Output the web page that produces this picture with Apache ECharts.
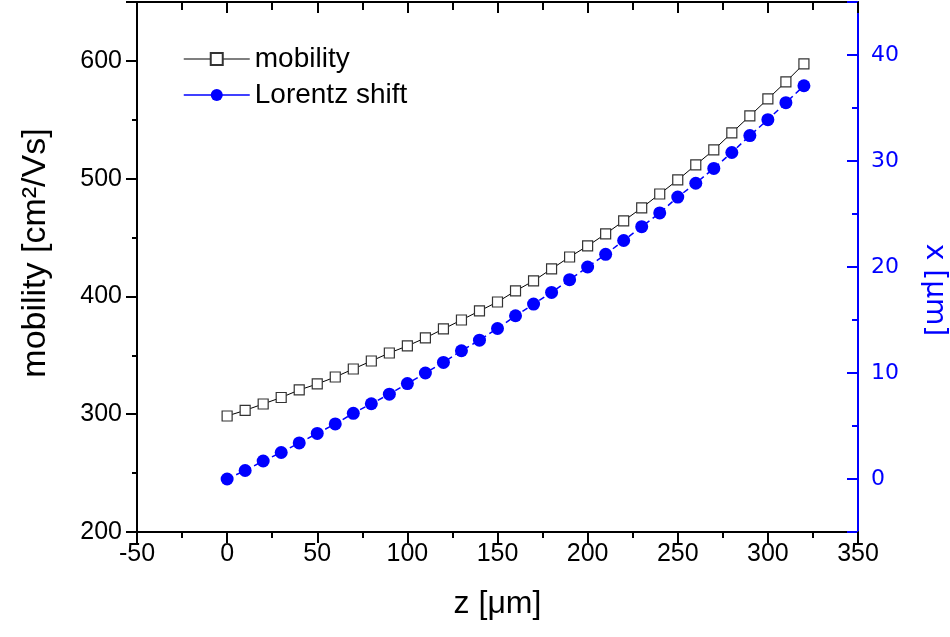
<!DOCTYPE html>
<html><head><meta charset="utf-8">
<script src="https://cdn.jsdelivr.net/npm/echarts@6/dist/echarts.min.js"></script>
<style>html,body{margin:0;padding:0;background:#fff}#c{width:950px;height:637px}</style>
</head><body><div id="c"></div>
<script>
const zValues = [0,10,20,30,40,50,60,70,80,90,100,110,120,130,140,150,160,170,180,190,200,210,220,230,240,250,260,270,280,290,300,310,320];
const mobility = [298.5,303.3,308.7,314.2,320.6,325.7,331.6,338.4,345.2,352.0,358.0,364.8,372.4,380.0,387.7,395.3,404.7,413.2,423.4,433.5,442.9,453.1,464.1,475.2,487.0,498.9,511.7,524.4,538.9,553.3,567.7,582.2,597.5];
const lorentzShift = [0,0.8,1.7,2.5,3.4,4.3,5.2,6.2,7.1,8.0,9.0,10.0,11.0,12.1,13.1,14.2,15.4,16.5,17.6,18.8,20.0,21.2,22.5,23.8,25.1,26.6,27.9,29.3,30.8,32.4,33.9,35.5,37.1];
const seriesNames = ['mobility','Lorentz shift'];
const xTitle = 'z [\u03bcm]';
const yLeftTitle = 'mobility [cm\u00b2/Vs]';
const yRightTitle = 'x [\u03bcm]';

const mobData = zValues.map((z,i)=>[z,mobility[i]]);
const lorData = zValues.map((z,i)=>[z,lorentzShift[i]]);
const AR = 'Liberation Sans, Arial, sans-serif';
const DV = 'DejaVu Sans, Verdana, sans-serif';
const chart = echarts.init(document.getElementById('c'), null, {renderer:'canvas'});
chart.setOption({
  animation:false,
  backgroundColor:'#fff',
  grid:{left:137,right:92,top:2,bottom:105,containLabel:false,outerBoundsMode:'none'},
  legend:{
    left:178, top:40, orient:'vertical', itemGap:8, itemWidth:66, itemHeight:15,
    textStyle:{fontFamily:AR,fontSize:28,color:'#000',padding:[0,0,0,0]},
    data:[
      {name:seriesNames[0], lineStyle:{type:'solid',width:1.2,color:'#000'}},
      {name:seriesNames[1], lineStyle:{type:'solid',width:1.5,color:'#0000ff'}}
    ]
  },
  xAxis:[{
    type:'value', min:-50, max:350, interval:50, position:'bottom',
    axisLine:{show:true,onZero:false,lineStyle:{color:'#000',width:2}},
    axisTick:{show:true,inside:false,length:11,lineStyle:{color:'#000',width:2}},
    minorTick:{show:true,splitNumber:2,length:6,lineStyle:{color:'#000',width:2}},
    splitLine:{show:false},
    axisLabel:{margin:10,fontFamily:AR,fontSize:25,color:'#000'},
    name:xTitle, nameLocation:'middle', nameGap:56,
    nameTextStyle:{fontFamily:AR,fontSize:32,color:'#000'}
  },{
    type:'value', min:-50, max:350, interval:50, position:'top',
    axisLine:{show:true,onZero:false,lineStyle:{color:'#000',width:2}},
    axisTick:{show:true,inside:true,length:11,lineStyle:{color:'#000',width:2}},
    minorTick:{show:true,splitNumber:2,length:8,lineStyle:{color:'#000',width:2}},
    splitLine:{show:false}, axisLabel:{show:false}
  }],
  yAxis:[{
    type:'value', min:200, max:650, interval:50, position:'left',
    axisLine:{show:true,onZero:false,lineStyle:{color:'#000',width:2}},
    axisTick:{show:true,inside:false,length:5,lineStyle:{color:'#000',width:2}},
    splitLine:{show:false},
    axisLabel:{margin:15,fontFamily:AR,fontSize:25,color:'#000',
      formatter:v=> (v%100===0 && v<=600) ? String(v) : ''},
    name:yLeftTitle, nameLocation:'middle', nameGap:84, nameRotate:90,
    nameTextStyle:{fontFamily:AR,fontSize:34,color:'#000',padding:[0,0,0,28]}
  },{
    type:'value', min:-5, max:45, interval:5, position:'right',
    axisLine:{show:true,onZero:false,lineStyle:{color:'#0000ff',width:2}},
    axisTick:{show:true,inside:true,length:6,lineStyle:{color:'#0000ff',width:2}},
    splitLine:{show:false},
    axisLabel:{margin:13,fontFamily:DV,fontSize:22,color:'#0000ff',
      formatter:v=> (v%10===0) ? String(v) : ''},
    name:yRightTitle, nameLocation:'middle', nameGap:62, nameRotate:-90,
    nameTextStyle:{fontFamily:DV,fontSize:28,color:'#0000ff',padding:[0,0,0,46]}
  },{
    type:'value', min:200, max:650, interval:100, position:'left',
    axisLine:{show:false,onZero:false},
    axisTick:{show:true,inside:false,length:11,lineStyle:{color:'#000',width:2}},
    splitLine:{show:false}, axisLabel:{show:false}
  },{
    type:'value', min:-5, max:45, position:'right',
    axisLine:{show:false,onZero:false},
    axisTick:{show:true,inside:true,length:11,lineStyle:{color:'#0000ff',width:2}},
    splitLine:{show:false}, axisLabel:{show:false}
  }],
  series:[{
    name:seriesNames[0], type:'line', xAxisIndex:0, yAxisIndex:0, data:mobData,
    symbol:'rect', symbolSize:10, z:3,
    lineStyle:{color:'#000',width:1},
    itemStyle:{color:'#fff',borderColor:'#333',borderWidth:1.2}
  },{
    name:seriesNames[1], type:'line', xAxisIndex:0, yAxisIndex:1, data:lorData,
    symbol:'circle', symbolSize:13, z:4,
    lineStyle:{color:'#0000ff',width:1.5,type:[6,4]},
    itemStyle:{color:'#0000ff',borderWidth:0}
  }]
});
</script></body></html>
